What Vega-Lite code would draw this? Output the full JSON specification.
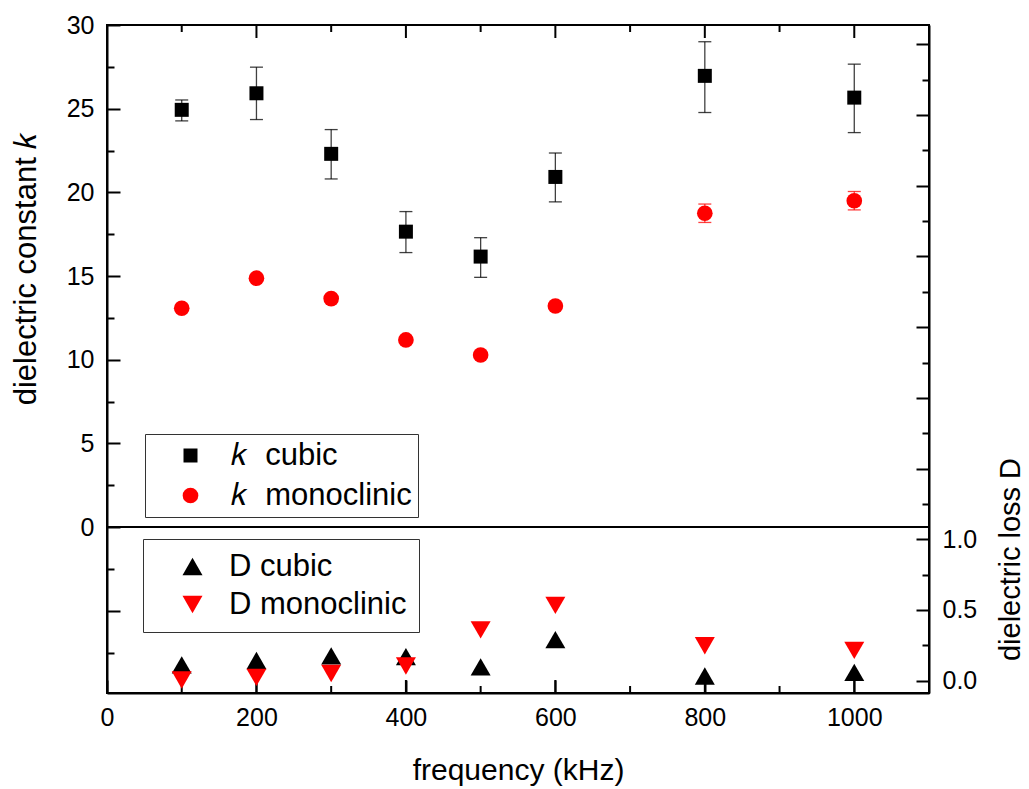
{
  "$schema": "https://vega.github.io/schema/vega-lite/v6.json",
  "width": 822,
  "height": 668,
  "autosize": {"type": "none"},
  "padding": {"left": 107, "top": 25, "right": 100, "bottom": 96},
  "background": "white",
  "config": {
    "font": "Liberation Sans",
    "view": {"stroke": "black", "strokeWidth": 2},
    "axis": {
      "domainColor": "black", "domainWidth": 2,
      "tickColor": "black", "tickWidth": 2,
      "labelColor": "black", "titleColor": "black",
      "labelFont": "Liberation Sans", "titleFont": "Liberation Sans",
      "labelFontSize": 25, "titleFontSize": 29, "titleFontWeight": "normal",
      "grid": false
    },
    "legend": {"labelFont": "Liberation Sans", "labelColor": "black"}
  },
  "datasets": {
    "kdata": [
      {"freq": 100, "k": 24.93, "lo": 24.27, "hi": 25.52, "series": "k cubic"},
      {"freq": 200, "k": 25.92, "lo": 24.35, "hi": 27.48, "series": "k cubic"},
      {"freq": 300, "k": 22.3, "lo": 20.8, "hi": 23.75, "series": "k cubic"},
      {"freq": 400, "k": 17.65, "lo": 16.4, "hi": 18.85, "series": "k cubic"},
      {"freq": 500, "k": 16.16, "lo": 14.92, "hi": 17.29, "series": "k cubic"},
      {"freq": 600, "k": 20.92, "lo": 19.43, "hi": 22.35, "series": "k cubic"},
      {"freq": 800, "k": 26.96, "lo": 24.77, "hi": 29.0, "series": "k cubic"},
      {"freq": 1000, "k": 25.66, "lo": 23.57, "hi": 27.66, "series": "k cubic"},
      {"freq": 100, "k": 13.07, "lo": 13.07, "hi": 13.07, "series": "k monoclinic"},
      {"freq": 200, "k": 14.87, "lo": 14.87, "hi": 14.87, "series": "k monoclinic"},
      {"freq": 300, "k": 13.65, "lo": 13.65, "hi": 13.65, "series": "k monoclinic"},
      {"freq": 400, "k": 11.18, "lo": 11.18, "hi": 11.18, "series": "k monoclinic"},
      {"freq": 500, "k": 10.28, "lo": 10.28, "hi": 10.28, "series": "k monoclinic"},
      {"freq": 600, "k": 13.21, "lo": 13.21, "hi": 13.21, "series": "k monoclinic"},
      {"freq": 800, "k": 18.75, "lo": 18.2, "hi": 19.3, "series": "k monoclinic"},
      {"freq": 1000, "k": 19.5, "lo": 18.95, "hi": 20.05, "series": "k monoclinic"}
    ],
    "ddata": [
      {"freq": 100, "D": 0.112, "series": "D cubic"},
      {"freq": 200, "D": 0.143, "series": "D cubic"},
      {"freq": 300, "D": 0.175, "series": "D cubic"},
      {"freq": 400, "D": 0.17, "series": "D cubic"},
      {"freq": 500, "D": 0.098, "series": "D cubic"},
      {"freq": 600, "D": 0.29, "series": "D cubic"},
      {"freq": 800, "D": 0.033, "series": "D cubic"},
      {"freq": 1000, "D": 0.059, "series": "D cubic"},
      {"freq": 100, "D": 0.005, "series": "D monoclinic"},
      {"freq": 200, "D": 0.023, "series": "D monoclinic"},
      {"freq": 300, "D": 0.051, "series": "D monoclinic"},
      {"freq": 400, "D": 0.104, "series": "D monoclinic"},
      {"freq": 500, "D": 0.36, "series": "D monoclinic"},
      {"freq": 600, "D": 0.533, "series": "D monoclinic"},
      {"freq": 800, "D": 0.247, "series": "D monoclinic"},
      {"freq": 1000, "D": 0.215, "series": "D monoclinic"}
    ],
    "xmajor": [{"f": 200}, {"f": 400}, {"f": 600}, {"f": 800}, {"f": 1000}],
    "xminor": [{"f": 100}, {"f": 300}, {"f": 500}, {"f": 700}, {"f": 900}]
  },
  "layer": [
    {
      "data": {"name": "kdata"},
      "mark": {"type": "rule", "strokeWidth": 1.3, "opacity": 0.75},
      "encoding": {
        "x": {
          "field": "freq", "type": "quantitative",
          "scale": {"domain": [0, 1100], "nice": false, "zero": false},
          "axis": {
            "orient": "bottom",
            "values": [0, 200, 400, 600, 800, 1000],
            "format": "d",
            "tickSize": -13,
            "labelPadding": 25,
            "labelFlush": false,
            "title": "frequency (kHz)",
            "titleFontSize": 30,
            "titleY": 86,
            "titleBaseline": "alphabetic"
          }
        },
        "y": {
          "field": "lo", "type": "quantitative",
          "scale": {"domain": [-9.92, 30], "nice": false, "zero": false},
          "axis": {
            "orient": "left",
            "values": [-7.5, -5, -2.5, 0, 2.5, 5, 7.5, 10, 12.5, 15, 17.5, 20, 22.5, 25, 27.5, 30],
            "labelExpr": "datum.value >= 0 && datum.value % 5 === 0 ? datum.label : ''",
            "tickSize": {"condition": {"test": "datum.value % 5 === 0", "value": -13}, "value": -7},
            "labelPadding": 26,
            "labelFlush": false,
            "title": "dielectric constant 𝑘",
            "titleFontSize": 31,
            "titleAngle": -90,
            "titleX": -72,
            "titleY": 243,
            "titleAlign": "center",
            "titleBaseline": "alphabetic"
          }
        },
        "y2": {"field": "hi"},
        "color": {
          "field": "series", "type": "nominal",
          "scale": {"domain": ["k cubic", "k monoclinic"], "range": ["black", "red"]},
          "legend": null
        }
      }
    },
    {
      "data": {"name": "kdata"},
      "mark": {"type": "tick", "orient": "horizontal", "size": 13, "thickness": 1.3, "opacity": 0.75},
      "encoding": {
        "x": {"field": "freq", "type": "quantitative", "scale": {"domain": [0, 1100], "nice": false, "zero": false}, "axis": null},
        "y": {
          "field": "hi", "type": "quantitative",
          "scale": {"domain": [-9.92, 30], "nice": false, "zero": false},
          "axis": null
        },
        "color": {
          "field": "series", "type": "nominal",
          "scale": {"domain": ["k cubic", "k monoclinic"], "range": ["black", "red"]},
          "legend": null
        }
      }
    },
    {
      "data": {"name": "kdata"},
      "mark": {"type": "tick", "orient": "horizontal", "size": 13, "thickness": 1.3, "opacity": 0.75},
      "encoding": {
        "x": {"field": "freq", "type": "quantitative", "scale": {"domain": [0, 1100], "nice": false, "zero": false}, "axis": null},
        "y": {
          "field": "lo", "type": "quantitative",
          "scale": {"domain": [-9.92, 30], "nice": false, "zero": false},
          "axis": null
        },
        "color": {
          "field": "series", "type": "nominal",
          "scale": {"domain": ["k cubic", "k monoclinic"], "range": ["black", "red"]},
          "legend": null
        }
      }
    },
    {
      "data": {"values": [{}]},
      "mark": {"type": "rule", "color": "black", "strokeWidth": 2},
      "encoding": {
        "y": {
          "datum": 0, "type": "quantitative",
          "scale": {"domain": [-9.92, 30], "nice": false, "zero": false},
          "axis": null
        }
      }
    },
    {
      "data": {"name": "xmajor"},
      "mark": {"type": "rule", "strokeWidth": 2, "color": "black"},
      "encoding": {
        "x": {"field": "f", "type": "quantitative", "scale": {"domain": [0, 1100], "nice": false, "zero": false}, "axis": null},
        "y": {"datum": -9.92, "type": "quantitative", "scale": {"domain": [-9.92, 30], "nice": false, "zero": false}, "axis": null},
        "y2": {"datum": -9.143}
      }
    },
    {
      "data": {"name": "xmajor"},
      "mark": {"type": "rule", "strokeWidth": 2, "color": "black"},
      "encoding": {
        "x": {"field": "f", "type": "quantitative", "scale": {"domain": [0, 1100], "nice": false, "zero": false}, "axis": null},
        "y": {"datum": 30, "type": "quantitative", "scale": {"domain": [-9.92, 30], "nice": false, "zero": false}, "axis": null},
        "y2": {"datum": 29.223}
      }
    },
    {
      "data": {"name": "xminor"},
      "mark": {"type": "rule", "strokeWidth": 2, "color": "black"},
      "encoding": {
        "x": {"field": "f", "type": "quantitative", "scale": {"domain": [0, 1100], "nice": false, "zero": false}, "axis": null},
        "y": {"datum": -9.92, "type": "quantitative", "scale": {"domain": [-9.92, 30], "nice": false, "zero": false}, "axis": null},
        "y2": {"datum": -9.502}
      }
    },
    {
      "data": {"name": "xminor"},
      "mark": {"type": "rule", "strokeWidth": 2, "color": "black"},
      "encoding": {
        "x": {"field": "f", "type": "quantitative", "scale": {"domain": [0, 1100], "nice": false, "zero": false}, "axis": null},
        "y": {"datum": 30, "type": "quantitative", "scale": {"domain": [-9.92, 30], "nice": false, "zero": false}, "axis": null},
        "y2": {"datum": 29.582}
      }
    },
    {
      "data": {"name": "kdata"},
      "mark": {"type": "point", "filled": true, "opacity": 1, "strokeWidth": 0},
      "encoding": {
        "x": {"field": "freq", "type": "quantitative", "scale": {"domain": [0, 1100], "nice": false, "zero": false}, "axis": null},
        "y": {
          "field": "k", "type": "quantitative",
          "scale": {"domain": [-9.92, 30], "nice": false, "zero": false},
          "axis": null
        },
        "size": {
          "field": "series", "type": "nominal",
          "scale": {"domain": ["k cubic", "k monoclinic"], "range": [196, 245]},
          "legend": null
        },
        "shape": {
          "field": "series", "type": "nominal",
          "scale": {"domain": ["k cubic", "k monoclinic"], "range": ["square", "circle"]},
          "legend": {
            "title": null, "orient": "none", "legendX": 38, "legendY": 409,
            "strokeColor": "#333", "padding": 6, "symbolOffset": 24, "labelOffset": 25,
            "rowPadding": 8, "labelFontSize": 31, "symbolSize": 220, "symbolStrokeWidth": 0,
            "labelLimit": 500, "labelExpr": "'𝑘\u00a0\u00a0' + slice(datum.label, 2)"
          }
        },
        "color": {
          "field": "series", "type": "nominal",
          "scale": {"domain": ["k cubic", "k monoclinic"], "range": ["black", "red"]},
          "legend": {
            "title": null, "orient": "none", "legendX": 38, "legendY": 409,
            "strokeColor": "#333", "padding": 6, "symbolOffset": 24, "labelOffset": 25,
            "rowPadding": 8, "labelFontSize": 31, "symbolSize": 220, "symbolStrokeWidth": 0,
            "labelLimit": 500, "labelExpr": "'𝑘\u00a0\u00a0' + slice(datum.label, 2)"
          }
        }
      }
    },
    {
      "data": {"name": "ddata"},
      "mark": {"type": "point", "filled": true, "opacity": 1, "size": 400, "strokeWidth": 0},
      "encoding": {
        "x": {
          "field": "freq", "type": "quantitative",
          "scale": {"domain": [0, 1100], "nice": false, "zero": false},
          "axis": null
        },
        "y": {
          "field": "D", "type": "quantitative",
          "scale": {"domain": [-0.087, 4.637], "nice": false, "zero": false},
          "axis": {
            "orient": "right",
            "values": [0, 0.25, 0.5, 0.75, 1, 1.25, 1.5, 1.75, 2, 2.25, 2.5, 2.75, 3, 3.25, 3.5, 3.75, 4, 4.25, 4.5],
            "labelExpr": "datum.value <= 1 && (datum.value * 2) % 1 === 0 ? format(datum.value, '.1f') : ''",
            "tickSize": {"condition": {"test": "(datum.value * 2) % 1 === 0", "value": -13}, "value": -7},
            "labelPadding": 26,
            "labelFlush": false,
            "title": "dielectric loss D",
            "titleFontSize": 29,
            "titleAngle": -90,
            "titleX": 90,
            "titleY": 534,
            "titleAlign": "center",
            "titleBaseline": "alphabetic"
          }
        },
        "shape": {
          "field": "series", "type": "nominal",
          "scale": {"domain": ["D cubic", "D monoclinic"], "range": ["triangle-up", "triangle-down"]},
          "legend": {
            "title": null, "orient": "none", "legendX": 36, "legendY": 514,
            "strokeColor": "#333", "padding": 12, "symbolOffset": 22, "labelOffset": 21,
            "rowPadding": 6, "labelFontSize": 31, "symbolSize": 400, "symbolStrokeWidth": 0,
            "labelLimit": 500
          }
        },
        "color": {
          "field": "series", "type": "nominal",
          "scale": {"domain": ["D cubic", "D monoclinic"], "range": ["black", "red"]},
          "legend": {
            "title": null, "orient": "none", "legendX": 36, "legendY": 514,
            "strokeColor": "#333", "padding": 12, "symbolOffset": 22, "labelOffset": 21,
            "rowPadding": 6, "labelFontSize": 31, "symbolSize": 400, "symbolStrokeWidth": 0,
            "labelLimit": 500
          }
        }
      }
    }
  ],
  "resolve": {
    "scale": {"y": "independent", "color": "independent", "shape": "independent", "size": "independent"},
    "axis": {"x": "independent", "y": "independent"},
    "legend": {"color": "independent", "shape": "independent", "size": "independent"}
  }
}
